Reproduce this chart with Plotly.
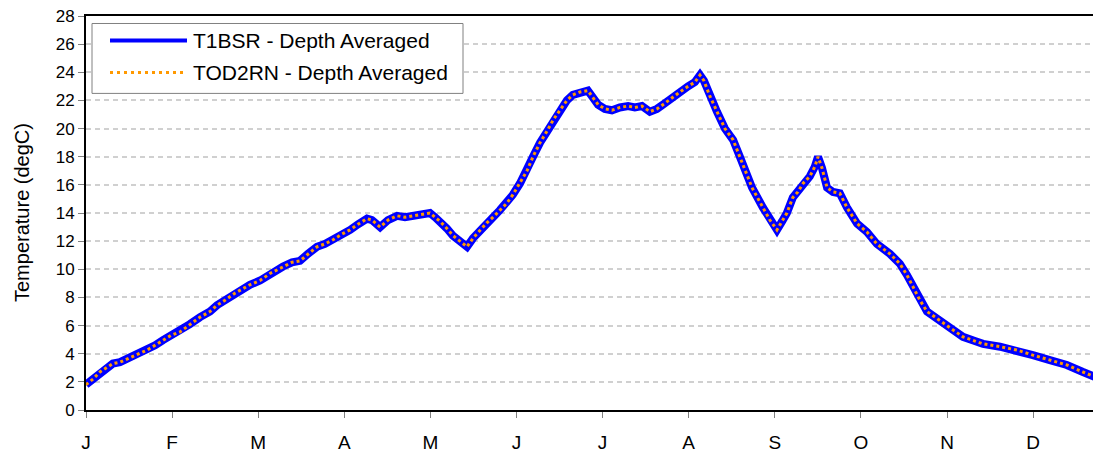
import plotly.graph_objects as go

# day of year for each reading
days = [0, 2.5, 4.9, 7.4, 9.5, 12.0, 15.5, 19.1, 21.5, 24.4, 27.2, 30.0, 33.2, 36.7,
        40.3, 43.8, 46.3, 49.1, 52.6, 57.9, 61.5, 65.0, 69.6, 72.8, 75.6, 78.4, 81.6,
        84.4, 87.3, 90.4, 93.3, 96.1, 99.3, 101.0, 103.9, 106.7, 109.9, 112.7, 115.5,
        118.7, 121.5, 123.3, 125.1, 127.5, 129.6, 132.1, 134.6, 136.7, 139.2, 141.6,
        143.8, 146.2, 148.7, 150.8, 153.3, 155.8, 157.9, 160.4, 162.8, 165.0, 167.4,
        169.9, 172.0, 174.5, 177.3, 179.1, 180.9, 183.3, 185.8, 188.6, 191.5, 193.9,
        196.4, 199.2, 201.7, 204.5, 207.0, 209.8, 212.7, 215.1, 216.9, 218.3, 220.4,
        222.9, 225.7, 228.6, 231.0, 232.8, 235.3, 239.1, 241.6, 244.1, 245.9, 247.6,
        249.7, 251.5, 253.3, 255.7, 257.5, 258.6, 260.0, 261.8, 263.9, 266.3, 268.8,
        272.4, 275.9, 279.4, 284.0, 287.5, 290.0, 292.1, 294.6, 297.1, 300.6, 305.2,
        309.8, 314.0, 316.9, 322.9, 328.9, 334.5, 340.5, 346.5, 352.2, 357.1]

t1bsr_temp = [1.8, 2.2, 2.7, 3.0, 3.3, 3.4, 3.7, 4.0, 4.25, 4.6, 4.97, 5.3, 5.55, 6.1,
              6.6, 7.0, 7.45, 7.8, 8.3, 8.9, 9.2, 9.7, 10.2, 10.5, 10.6, 11.1, 11.6,
              11.8, 12.1, 12.5, 12.8, 13.2, 13.6, 13.5, 13.0, 13.5, 13.8, 13.7, 13.8,
              13.9, 14.0, 13.7, 13.4, 12.9, 12.4, 12.0, 11.6, 12.2, 12.8, 13.3,
              13.7, 14.2, 14.7, 15.3, 16.1, 17.0, 18.0, 19.0, 19.8, 20.6, 21.3,
              22.0, 22.4, 22.6, 22.7, 22.2, 21.7, 21.4, 21.3, 21.5, 21.6, 21.5,
              21.6, 21.2, 21.4, 21.8, 22.2, 22.6, 23.0, 23.3, 23.8, 23.4, 22.3,
              21.2, 20.0, 19.2, 18.0, 17.0, 15.8, 14.4, 13.5, 12.8, 13.4, 14.0,
              15.1, 15.5, 16.1, 16.6, 17.3, 18.0, 17.2, 15.8, 15.5, 15.4, 14.4,
              13.25, 12.65, 11.8, 11.1, 10.4, 9.6, 8.75, 7.8, 7.0, 6.5, 5.8,
              5.2, 4.9, 4.7, 4.5, 4.26, 3.9, 3.55, 3.2, 2.7, 2.3]

tod2rn_temp = [1.8, 2.2, 2.7, 3.0, 3.3, 3.4, 3.7, 4.0, 4.25, 4.6, 4.97, 5.3, 5.55, 6.1,
               6.6, 7.0, 7.45, 7.8, 8.3, 8.9, 9.2, 9.7, 10.2, 10.5, 10.6, 11.1, 11.6,
               11.8, 12.1, 12.5, 12.8, 13.2, 13.6, 13.5, 13.0, 13.5, 13.8, 13.7, 13.8,
               13.9, 14.0, 13.7, 13.4, 12.9, 12.4, 12.0, 11.6, 12.2, 12.8, 13.3,
               13.7, 14.2, 14.7, 15.3, 16.1, 17.0, 18.0, 19.0, 19.8, 20.6, 21.3,
               22.0, 22.4, 22.6, 22.7, 22.2, 21.7, 21.4, 21.3, 21.5, 21.6, 21.5,
               21.6, 21.2, 21.4, 21.8, 22.2, 22.6, 23.0, 23.3, 23.8, 23.4, 22.3,
               21.2, 20.0, 19.2, 18.0, 17.0, 15.8, 14.4, 13.5, 12.8, 13.4, 14.0,
               15.1, 15.5, 16.1, 16.6, 17.3, 18.0, 17.2, 15.8, 15.5, 15.4, 14.4,
               13.25, 12.65, 11.8, 11.1, 10.4, 9.6, 8.75, 7.8, 7.0, 6.5, 5.8,
               5.2, 4.9, 4.7, 4.5, 4.26, 3.9, 3.55, 3.2, 2.7, 2.3]

month_labels = ["J", "F", "M", "A", "M", "J", "J", "A", "S", "O", "N", "D"]
month_ticks = [i * 365 / 12 for i in range(12)]

FONT = "Liberation Sans, Arial, sans-serif"

# the page body has an 8px margin, so the figure sits at (8, 8) in the window
OFF = 8
PLOT_L, PLOT_R, PLOT_T, PLOT_B = 86, 1101, 15.5, 410
FIG_W, FIG_H = 1101 - OFF, 458 - OFF


def px(x):
    return (x - PLOT_L) / (PLOT_R - PLOT_L)


def py(y):
    return (PLOT_B - y) / (PLOT_B - PLOT_T)


fig = go.Figure()
fig.add_trace(go.Scatter(x=days, y=t1bsr_temp, mode="lines", name="T1BSR - Depth Averaged",
                         line=dict(color="#0000ff", width=8)))
fig.add_trace(go.Scatter(x=days, y=tod2rn_temp, mode="lines", name="TOD2RN - Depth Averaged",
                         line=dict(color="#ff9900", width=3, dash="3px,3px")))

# Excel style legend box with long line samples
shapes = [
    dict(type="rect", xref="paper", yref="paper", x0=px(92), x1=px(463), y0=py(93), y1=py(23),
         line=dict(color="#808080", width=1), fillcolor="white", layer="above"),
    dict(type="line", xref="paper", yref="paper", x0=px(110), x1=px(187), y0=py(40), y1=py(40),
         line=dict(color="#0000ff", width=4), layer="above"),
    dict(type="line", xref="paper", yref="paper", x0=px(110), x1=px(187), y0=py(72), y1=py(72),
         line=dict(color="#ff9900", width=3, dash="3px,4px"), layer="above"),
]
annotations = [
    dict(xref="paper", yref="paper", x=px(191), y=py(40), text="T1BSR - Depth Averaged",
         showarrow=False, xanchor="left", yanchor="middle", font=dict(size=21, color="black")),
    dict(xref="paper", yref="paper", x=px(191), y=py(72), text="TOD2RN - Depth Averaged",
         showarrow=False, xanchor="left", yanchor="middle", font=dict(size=21, color="black")),
    dict(xref="paper", yref="paper", x=px(22), y=0.5, text="Temperature (degC)", textangle=-90,
         showarrow=False, xanchor="center", yanchor="middle", font=dict(size=20, color="black")),
]

fig.update_layout(
    width=FIG_W, height=FIG_H,
    margin=dict(l=PLOT_L - OFF, r=0, t=PLOT_T - OFF, b=FIG_H - (PLOT_B - OFF), autoexpand=False),
    paper_bgcolor="white", plot_bgcolor="white",
    font=dict(family=FONT, color="black"),
    showlegend=False,
    shapes=shapes, annotations=annotations,
    xaxis=dict(range=[0, (PLOT_R - PLOT_L) / (86.1 * 12 / 365)], tickvals=month_ticks,
               ticktext=month_labels, ticks="outside", ticklen=6, tickcolor="#808080",
               tickwidth=1, ticklabelstandoff=8,
               showline=True, linecolor="black", linewidth=2, mirror=True,
               showgrid=False, zeroline=False, tickfont=dict(size=19), automargin=False),
    yaxis=dict(range=[0, 28], dtick=2, ticks="outside", ticklen=6, tickcolor="#808080",
               showline=True, linecolor="black", linewidth=2, mirror=False,
               showgrid=True, gridcolor="#d0d0d0", gridwidth=1.5, griddash="5px,4px",
               zeroline=False, tickfont=dict(size=17), automargin=False,
               ticklabeloverflow="allow"),
)

fig.write_html("out.html")
